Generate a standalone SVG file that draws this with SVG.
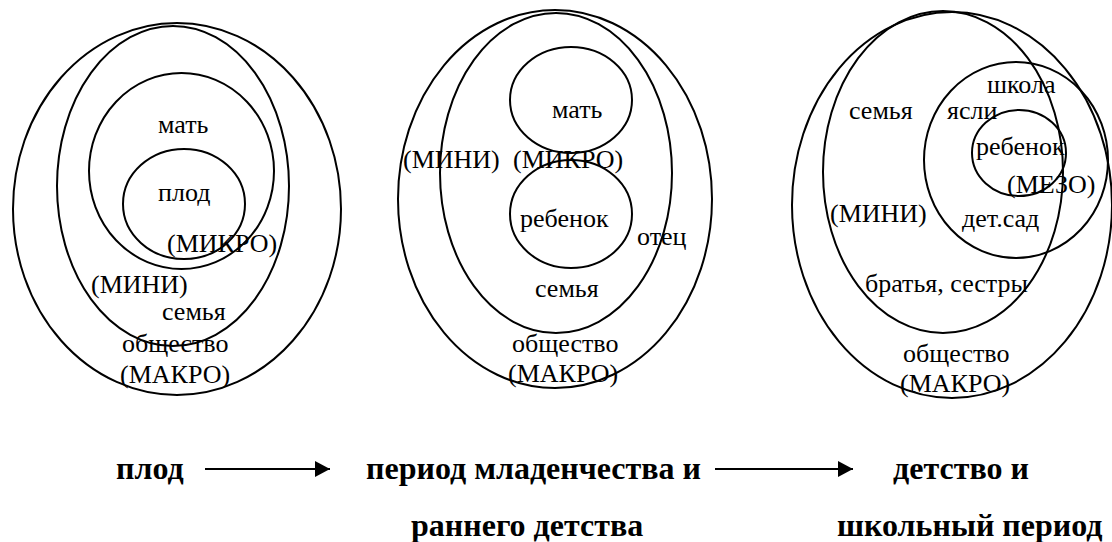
<svg xmlns="http://www.w3.org/2000/svg" width="1112" height="542" viewBox="0 0 1112 542">
  <style>
    .ring { fill: none; stroke: #000; stroke-width: 2; }
    .lbl { font-family: 'Liberation Serif', 'DejaVu Serif', serif; font-size: 26px; fill: #000; }
    .cap { font-family: 'Liberation Serif', 'DejaVu Serif', serif; font-size: 32px; font-weight: bold; fill: #000; }
    .link { stroke: #000; stroke-width: 2.2; fill: none; }
  </style>
  <defs>
    <marker id="head" viewBox="0 0 15 16" refX="15" refY="8" markerWidth="15" markerHeight="16" markerUnits="userSpaceOnUse" orient="auto">
      <path d="M0,0 L15,8 L0,16 z" fill="#000"/>
    </marker>
  </defs>
  <rect width="1112" height="542" fill="#fff"/>

  <!-- Stage 1: fetus -->
  <g id="stage-fetus">
    <ellipse class="ring" cx="177" cy="209" rx="164" ry="186"/>
    <ellipse class="ring" cx="173" cy="186" rx="116" ry="160"/>
    <ellipse class="ring" cx="181.5" cy="171" rx="92.5" ry="98"/>
    <ellipse class="ring" cx="184" cy="204" rx="61" ry="55"/>
    <text class="lbl" x="158" y="133">мать</text>
    <text class="lbl" x="158" y="201">плод</text>
    <text class="lbl" x="167" y="252">(МИКРО)</text>
    <text class="lbl" x="91" y="293">(МИНИ)</text>
    <text class="lbl" x="162" y="320">семья</text>
    <text class="lbl" x="122" y="352">общество</text>
    <text class="lbl" x="120" y="383">(МАКРО)</text>
  </g>

  <!-- Stage 2: infancy -->
  <g id="stage-infancy">
    <ellipse class="ring" cx="555" cy="199" rx="157" ry="189"/>
    <ellipse class="ring" cx="556" cy="173" rx="116" ry="160"/>
    <ellipse class="ring" cx="571" cy="100" rx="61" ry="53"/>
    <ellipse class="ring" cx="571" cy="214" rx="61" ry="54"/>
    <text class="lbl" x="552" y="118">мать</text>
    <text class="lbl" x="403" y="168">(МИНИ)</text>
    <text class="lbl" x="513" y="168">(МИКРО)</text>
    <text class="lbl" x="520" y="227">ребенок</text>
    <text class="lbl" x="637" y="245">отец</text>
    <text class="lbl" x="535" y="297">семья</text>
    <text class="lbl" x="512" y="352">общество</text>
    <text class="lbl" x="508" y="382">(МАКРО)</text>
  </g>

  <!-- Stage 3: childhood and school -->
  <g id="stage-school">
    <ellipse class="ring" cx="952" cy="205" rx="160" ry="193"/>
    <ellipse class="ring" cx="943" cy="172" rx="120" ry="161"/>
    <ellipse class="ring" cx="1016" cy="160" rx="92" ry="98"/>
    <ellipse class="ring" cx="1019" cy="153" rx="47" ry="43"/>
    <text class="lbl" x="987" y="93">школа</text>
    <text class="lbl" x="849" y="119">семья</text>
    <text class="lbl" x="947" y="119">ясли</text>
    <text class="lbl" x="976" y="155">ребенок</text>
    <text class="lbl" x="1007" y="193">(МЕЗО)</text>
    <text class="lbl" x="830" y="222">(МИНИ)</text>
    <text class="lbl" x="962" y="227">дет.сад</text>
    <text class="lbl" x="865" y="292">братья, сестры</text>
    <text class="lbl" x="903" y="362">общество</text>
    <text class="lbl" x="900" y="392">(МАКРО)</text>
  </g>

  <!-- Period captions -->
  <g id="caption-fetus">
    <text class="cap" x="116" y="479">плод</text>
  </g>
  <g id="caption-infancy">
    <text class="cap" x="366" y="479">период младенчества и</text>
    <text class="cap" x="411" y="536">раннего детства</text>
  </g>
  <g id="caption-school">
    <text class="cap" x="893" y="479">детство и</text>
    <text class="cap" x="837" y="536">школьный период</text>
  </g>

  <!-- Transitions between periods -->
  <g id="connectors">
    <line class="link" x1="205" y1="469" x2="330" y2="469" marker-end="url(#head)"/>
    <line class="link" x1="715" y1="469" x2="853" y2="469" marker-end="url(#head)"/>
  </g>
</svg>
